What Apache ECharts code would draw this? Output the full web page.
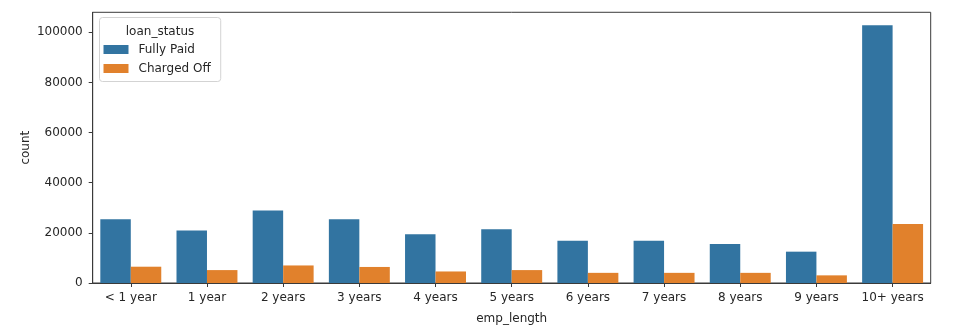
<!DOCTYPE html>
<html>
<head>
<meta charset="utf-8">
<title>Loan status by employment length</title>
<script src="https://cdn.jsdelivr.net/npm/echarts@6/dist/echarts.min.js"></script>
<style>
  html, body { margin: 0; padding: 0; background: #ffffff; }
  #chart { width: 963px; height: 330px; }
</style>
</head>
<body>
<div id="chart"></div>
<script>
// Employment-length categories on the x axis
const categories = ['< 1 year', '1 year', '2 years', '3 years', '4 years', '5 years',
                    '6 years', '7 years', '8 years', '9 years', '10+ years'];

// Loan counts per category, one array per loan status
const fullyPaid = [25400, 20900, 28900, 25400, 19400, 21400, 16900, 16900, 15600, 12500, 102800];
const chargedOff = [6500, 5150, 7000, 6400, 4600, 5150, 4050, 4050, 4050, 3050, 23500];

// Y axis tick values
const yTicks = [0, 20000, 40000, 60000, 80000, 100000];

const seriesNames = ['Fully Paid', 'Charged Off'];
const legendTitle = 'loan_status';

const FONT = 'DejaVu Sans';
const TEXT = '#262626';
const SPINE = '#3a3a3a';

const chart = echarts.init(document.getElementById('chart'), null, { renderer: 'canvas' });

chart.setOption({
  animation: false,
  backgroundColor: '#ffffff',
  textStyle: { fontFamily: FONT, fontSize: 12, color: TEXT },
  grid: {
    left: 92.7, right: 32.3, top: 12.3, bottom: 46.3,
    show: true, borderColor: SPINE, borderWidth: 1, backgroundColor: 'transparent'
  },
  title: {
    text: legendTitle,
    left: 160, top: 25.5,
    padding: 0,
    textAlign: 'center',
    textStyle: { fontFamily: FONT, fontSize: 12, fontWeight: 'normal', color: TEXT }
  },
  legend: {
    data: seriesNames,
    orient: 'vertical',
    left: 99.5, top: 17.5,
    padding: [25, 10, 6, 4],
    itemWidth: 25, itemHeight: 9, itemGap: 5,
    icon: 'rect',
    backgroundColor: '#ffffff',
    borderColor: '#d3d3d3', borderWidth: 1, borderRadius: 3,
    textStyle: { fontFamily: FONT, fontSize: 12, color: TEXT, padding: [0, 0, 0, 5], lineHeight: 14 }
  },
  xAxis: {
    type: 'category',
    data: categories,
    name: 'emp_length',
    nameLocation: 'middle',
    nameGap: 30,
    nameMoveOverlap: false,
    nameTextStyle: { fontFamily: FONT, fontSize: 12, color: TEXT },
    axisLine: { show: true, lineStyle: { color: SPINE, width: 1 } },
    axisTick: { show: true, alignWithLabel: true, interval: 0, length: 4, lineStyle: { color: SPINE } },
    axisLabel: { fontFamily: FONT, fontSize: 12, color: TEXT, margin: 9, interval: 0 },
    splitLine: { show: false }
  },
  yAxis: {
    type: 'value',
    min: 0, max: 108000, interval: 20000,
    name: 'count',
    nameLocation: 'middle',
    nameGap: 61,
    nameMoveOverlap: false,
    nameTextStyle: { fontFamily: FONT, fontSize: 12, color: TEXT },
    axisLine: { show: true, lineStyle: { color: SPINE, width: 1 } },
    axisTick: { show: true, length: 4, lineStyle: { color: SPINE }, customValues: yTicks },
    axisLabel: {
      fontFamily: FONT, fontSize: 12, color: TEXT, margin: 10, customValues: yTicks,
      formatter: (v) => String(v)
    },
    splitLine: { show: false }
  },
  series: [
    {
      name: seriesNames[0],
      type: 'bar',
      data: fullyPaid,
      barGap: '0%',
      barCategoryGap: '20%',
      itemStyle: { color: '#3274a1' }
    },
    {
      name: seriesNames[1],
      type: 'bar',
      data: chargedOff,
      barGap: '0%',
      barCategoryGap: '20%',
      itemStyle: { color: '#e1812c' }
    }
  ]
});
</script>
</body>
</html>
